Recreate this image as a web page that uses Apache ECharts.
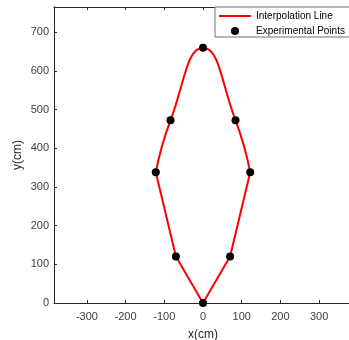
<!DOCTYPE html>
<html>
<head>
<meta charset="utf-8">
<script src="https://cdn.jsdelivr.net/npm/echarts@6/dist/echarts.min.js"></script>
<style>
  html, body { margin: 0; padding: 0; background: #fff; }
  #chart { width: 349px; height: 340px; }
</style>
</head>
<body>
<div id="chart"></div>
<script>
// Tick positions for both axes
const xTicks = [-300, -200, -100, 0, 100, 200, 300];
const yTicks = [0, 100, 200, 300, 400, 500, 600, 700];

// Measured points (x, y in cm), going round the outline
const pointX = [0, 70, 122, 84, 0, -84, -122, -70];
const pointY = [0, 120, 338, 472, 660, 472, 338, 120];

// Which measured points the straight lower part and the smooth upper arch pass through
const lowerOrder = [6, 7, 0, 1, 2];
const upperOrder = [2, 3, 4, 5, 6];

const pick = idx => idx.map(i => [pointX[i], pointY[i]]);
const points = pointX.map((x, i) => [x, pointY[i]]);

const AXIS = '#262626';
const FONT = 'Liberation Sans, Arial, Helvetica, sans-serif';

const baseAxis = {
  type: 'value',
  axisLine: { show: true, onZero: false, lineStyle: { color: AXIS, width: 1 } },
  axisTick: { show: true, inside: true, length: 3, lineStyle: { color: AXIS } },
  splitLine: { show: false }
};

const chart = echarts.init(document.getElementById('chart'), null, { renderer: 'canvas' });
chart.setOption({
  animation: false,
  backgroundColor: '#fff',
  grid: { left: 54, top: 7, width: 298, height: 296, containLabel: false, outerBoundsMode: 'none' },
  legend: {
    left: 215, top: 7,
    orient: 'vertical',
    backgroundColor: '#fff',
    borderColor: '#6e6e6e', borderWidth: 1, borderRadius: 0,
    padding: [3, 6, 0, 4],
    itemGap: 3,
    itemWidth: 32, itemHeight: 8,
    textStyle: { fontFamily: FONT, fontSize: 10, color: '#000', lineHeight: 12 },
    data: [
      { name: 'Interpolation Line', icon: 'path://M0,0L32,0L32,2L0,2Z', itemStyle: { color: '#ff0000', borderWidth: 0 } },
      { name: 'Experimental Points', icon: 'circle', itemStyle: { color: '#000', opacity: 1, borderWidth: 0 } }
    ]
  },
  xAxis: [
    Object.assign({}, baseAxis, {
      position: 'bottom', min: -385, max: 385,
      axisTick: Object.assign({}, baseAxis.axisTick, { customValues: xTicks }),
      axisLabel: { customValues: xTicks, margin: 8, fontFamily: FONT, fontSize: 11, color: '#404040' },
      name: 'x(cm)', nameLocation: 'middle', nameGap: 26, nameMoveOverlap: false,
      nameTextStyle: { fontFamily: FONT, fontSize: 12, color: '#262626' }
    }),
    Object.assign({}, baseAxis, {
      position: 'top', min: -385, max: 385,
      axisTick: Object.assign({}, baseAxis.axisTick, { customValues: xTicks }),
      axisLabel: { show: false }
    })
  ],
  yAxis: [
    Object.assign({}, baseAxis, {
      position: 'left', min: 0, max: 765,
      axisTick: Object.assign({}, baseAxis.axisTick, { customValues: yTicks }),
      axisLabel: { customValues: yTicks, margin: 5, fontFamily: FONT, fontSize: 11, color: '#404040' },
      name: 'y(cm)', nameLocation: 'middle', nameGap: 30, nameMoveOverlap: false,
      nameTextStyle: { fontFamily: FONT, fontSize: 12, color: '#262626' }
    }),
    Object.assign({}, baseAxis, {
      position: 'right', min: 0, max: 765,
      axisTick: Object.assign({}, baseAxis.axisTick, { customValues: yTicks }),
      axisLabel: { show: false }
    })
  ],
  series: [
    {
      name: 'Interpolation Line', type: 'line',
      data: pick(lowerOrder), symbol: 'none', smooth: false,
      lineStyle: { color: '#ff0000', width: 2 }, itemStyle: { color: '#ff0000' }, z: 2
    },
    {
      name: 'Interpolation Line', type: 'line',
      data: pick(upperOrder), symbol: 'none', smooth: 0.5,
      lineStyle: { color: '#ff0000', width: 2 }, itemStyle: { color: '#ff0000' }, z: 2
    },
    {
      name: 'Experimental Points', type: 'scatter',
      data: points, symbol: 'circle', symbolSize: 8,
      itemStyle: { color: '#000', opacity: 1 }, z: 3
    }
  ]
});
</script>
</body>
</html>
